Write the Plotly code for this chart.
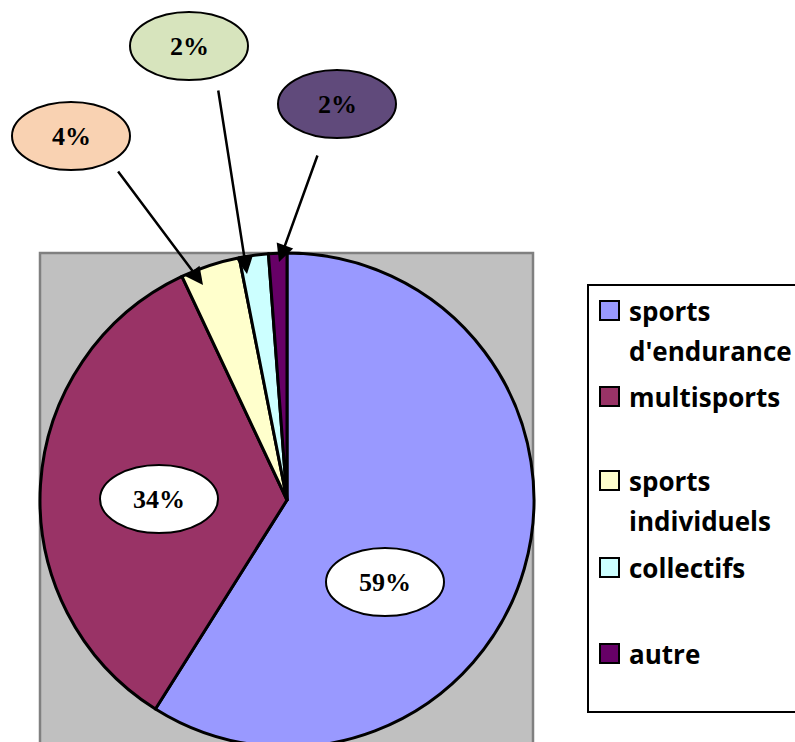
import plotly.graph_objects as go

# ---- data ----
categories = ["sports d'endurance", "multisports", "sports individuels", "collectifs", "autre"]
values = [59.0, 34.1, 3.9, 1.9, 1.2]
pct_labels = ["59%", "34%", "4%", "2%", "2%"]
colors = ["#9999FF", "#993366", "#FFFFCC", "#CCFFFF", "#660066"]

# ---- layout helpers (pixel positions) ----
W, H = 795, 750
def px(x):
    return x / W
def py(y):
    return 1 - y / H

cx, cy, R = 287, 500, 247

# label callouts: (ellipse centre x, y, fill, arrow tail, arrow tip)
callouts = [
    dict(c=(385, 582), fill="white", tail=None, tip=None),
    dict(c=(159, 499), fill="white", tail=None, tip=None),
    dict(c=(71, 136), fill="#F9D2B2", tail=(117, 170), tip=(203, 285)),
    dict(c=(189, 46), fill="#D7E4BD", tail=(218, 89), tip=(247, 274)),
    dict(c=(337, 104), fill="#604A7B", tail=(318, 154), tip=(279, 262)),
]
EW, EH = 118, 68

fig = go.Figure(go.Pie(
    labels=categories,
    values=values,
    marker=dict(colors=colors, line=dict(color="black", width=3)),
    sort=False,
    direction="clockwise",
    rotation=0,
    textinfo="none",
    hoverinfo="label+percent",
    showlegend=False,
    domain=dict(x=[px(cx - R), px(cx + R)], y=[py(cy + R), py(cy - R)]),
))

shapes = [
    # grey plot area
    dict(type="rect", xref="paper", yref="paper", layer="below",
         x0=px(40), x1=px(533), y0=py(780), y1=py(253),
         fillcolor="#C0C0C0", line=dict(color="#808080", width=2.5)),
]
annotations = []

for lab, co in zip(pct_labels, callouts):
    x, y = co["c"]
    shapes.append(dict(type="circle", xref="paper", yref="paper", layer="above",
                       x0=px(x - EW / 2), x1=px(x + EW / 2),
                       y0=py(y + EH / 2), y1=py(y - EH / 2),
                       fillcolor=co["fill"], line=dict(color="black", width=2)))
    annotations.append(dict(xref="paper", yref="paper", x=px(x), y=py(y),
                            text="<b>" + lab + "</b>", showarrow=False,
                            font=dict(family="Liberation Serif", size=26, color="black"),
                            xanchor="center", yanchor="middle"))
    if co["tail"] is not None:
        tx, ty = co["tip"]
        sx, sy = co["tail"]
        annotations.append(dict(xref="paper", yref="paper", x=px(tx), y=py(ty),
                                ax=sx - tx, ay=sy - ty, axref="pixel", ayref="pixel",
                                text="", showarrow=True, arrowhead=2, arrowsize=1.4,
                                arrowwidth=2.5, arrowcolor="black", standoff=0))

# ---- manual legend ----
shapes.append(dict(type="rect", xref="paper", yref="paper", layer="above",
                   x0=px(588), x1=px(820), y0=py(712), y1=py(285),
                   fillcolor="white", line=dict(color="black", width=2)))
sq_bottoms = [320, 406, 490, 577, 663]
for cat, col, b in zip(categories, colors, sq_bottoms):
    shapes.append(dict(type="rect", xref="paper", yref="paper", layer="above",
                       x0=px(600), x1=px(619), y0=py(b), y1=py(b - 19),
                       fillcolor=col, line=dict(color="black", width=2)))
    lines = cat.split(" ", 1) if cat.startswith("sports") else [cat]
    for i, ln in enumerate(lines):
        base = b + 40 * i
        annotations.append(dict(xref="paper", yref="paper", x=px(627), y=py(base - 9),
                                text="<b>" + ln + "</b>", showarrow=False,
                                font=dict(family="Open Sans", size=26, color="black"),
                                xanchor="left", yanchor="middle"))

fig.update_layout(
    width=W, height=H,
    margin=dict(l=0, r=0, t=0, b=0),
    paper_bgcolor="white",
    plot_bgcolor="white",
    shapes=shapes,
    annotations=annotations,
)

fig.write_html("out.html", config={"displayModeBar": False},
               post_script="document.body.style.margin='0';document.body.style.overflow='hidden';")
